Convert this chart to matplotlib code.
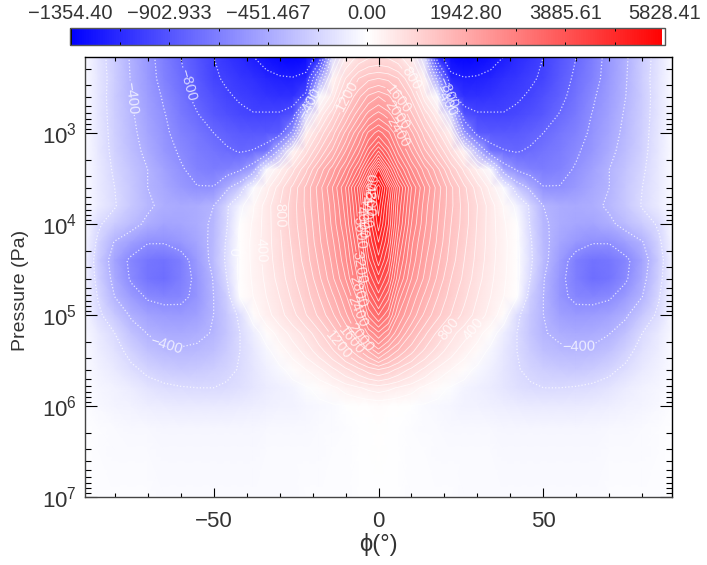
import numpy as np
import matplotlib
matplotlib.use('Agg')
import matplotlib.pyplot as plt
from matplotlib.colors import LinearSegmentedColormap, ListedColormap, TwoSlopeNorm
from matplotlib.ticker import FixedLocator, NullFormatter

plt.rcParams['font.family'] = ['Liberation Sans', 'DejaVu Sans']
plt.rcParams['mathtext.default'] = 'regular'

# latitude of each column (one hemisphere, the other is mirrored)
lat = [0, 3, 6, 10, 14, 18, 22, 26, 30, 34, 38, 42, 46, 50, 55, 60, 65, 70, 75, 80, 85, 89]
# log10 pressure of each row
log_p = [2.16, 2.4, 2.6, 2.8, 3.0, 3.2, 3.4, 3.6, 3.8, 4.0, 4.2, 4.4, 4.6, 4.8, 5.0, 5.2, 5.4, 5.6, 5.8, 6.0, 6.25, 6.5, 7.0]
wind = [
    [800, 760, 650, 400, -200, -1150, -1300, -1330, -1310, -1260, -1200, -1130, -1070, -1000, -900, -800, -680, -540, -420, -270, -140, -30],
    [1400, 1350, 1200, 800, 250, -500, -1150, -1190, -1180, -1150, -1100, -1060, -1015, -985, -870, -770, -660, -530, -410, -260, -130, -30],
    [2000, 1850, 1550, 1150, 500, -30, -950, -1090, -1090, -1070, -1045, -1015, -985, -930, -840, -740, -620, -510, -400, -270, -130, -30],
    [2500, 2300, 1950, 1450, 950, 450, -200, -900, -980, -985, -990, -970, -930, -880, -790, -700, -590, -490, -380, -260, -130, -30],
    [3100, 2850, 2400, 1850, 1300, 850, 350, -550, -860, -880, -880, -870, -840, -800, -730, -660, -570, -470, -360, -250, -125, -30],
    [3800, 3300, 2750, 2200, 1650, 1200, 750, 250, -350, -720, -790, -810, -780, -740, -690, -620, -540, -440, -340, -240, -120, -30],
    [5000, 4000, 3250, 2600, 2100, 1650, 1150, 750, 350, -30, -480, -620, -670, -690, -660, -580, -490, -400, -310, -220, -115, -30],
    [5750, 4900, 3900, 3000, 2400, 1900, 1450, 1050, 700, 320, -30, -280, -430, -590, -590, -530, -460, -400, -290, -200, -110, -25],
    [5500, 4700, 3750, 2900, 2300, 1850, 1450, 1100, 800, 500, 180, -60, -220, -400, -440, -450, -430, -380, -290, -190, -100, -25],
    [5300, 4600, 3650, 2800, 2250, 1800, 1400, 1100, 780, 500, 230, 10, -210, -380, -440, -470, -480, -430, -350, -270, -180, -40],
    [5000, 4400, 3450, 2650, 2150, 1750, 1350, 1050, 760, 500, 260, 30, -180, -360, -470, -540, -590, -590, -500, -410, -230, -60],
    [4700, 4150, 3250, 2550, 2050, 1650, 1300, 1000, 730, 480, 250, 40, -170, -350, -520, -680, -745, -730, -640, -480, -270, -70],
    [4300, 3850, 3050, 2400, 1950, 1550, 1200, 950, 680, 450, 230, 40, -200, -390, -560, -680, -770, -740, -620, -450, -250, -60],
    [3900, 3450, 2700, 2150, 1750, 1400, 1100, 850, 600, 400, 200, 10, -260, -400, -560, -640, -650, -620, -520, -400, -210, -55],
    [3400, 3050, 2400, 1950, 1550, 1250, 990, 730, 520, 320, 80, -170, -290, -400, -500, -530, -520, -490, -420, -290, -170, -45],
    [2750, 2450, 2050, 1600, 1250, 950, 680, 480, 280, 80, -90, -200, -300, -390, -430, -450, -440, -405, -320, -200, -110, -35],
    [2100, 1800, 1550, 1250, 950, 700, 480, 280, 100, -50, -120, -200, -270, -330, -370, -380, -370, -320, -240, -150, -85, -30],
    [1200, 1100, 950, 750, 550, 350, 200, 60, -40, -80, -130, -190, -230, -260, -285, -290, -270, -230, -170, -110, -65, -25],
    [500, 450, 380, 280, 150, 50, -20, -60, -80, -100, -130, -160, -180, -200, -200, -190, -170, -140, -105, -70, -45, -20],
    [50, 30, 10, -10, -25, -40, -50, -65, -70, -80, -90, -100, -110, -115, -115, -110, -100, -85, -70, -55, -35, -15],
    [0, -2, -8, -15, -22, -28, -32, -36, -40, -42, -45, -48, -50, -52, -52, -50, -48, -42, -36, -28, -20, -10],
    [0, -1, -8, -14, -20, -24, -26, -28, -30, -30, -32, -32, -33, -34, -34, -33, -32, -30, -28, -24, -18, -10],
    [-2, -4, -8, -14, -18, -20, -20, -22, -22, -22, -22, -22, -22, -22, -22, -22, -22, -20, -20, -18, -16, -10],
]

bar_ticks = [-1354.40, -902.933, -451.467, 0.0, 1942.80, 3885.61, 5828.41]
bar_labels = ['\u22121354.40', '\u2212902.933', '\u2212451.467', '0.00', '1942.80', '3885.61', '5828.41']

# contour labels: level, latitude, log10 pressure
label_level = [-800, -400, -800, -400, -400, -400, -400, 0, 400, 800, 1200, 800, 1600, 2000, 2400,
               3200, 2800, 2400, 2000, 1600, 1200, 800, 400, 3600, 4000, 4400, 4800, 5200]
label_lat = [-58.5, -74.5, 20.6, 21.5, -20.6, -64.5, 60.6, -43, -36.4, -30.3, -9.7, 9.1, 7.6, 8.8, 8.8,
             -5.5, -5.5, -7.5, -6, -9.4, -13, 21, 29.4, -6.5, -6, -5.5, -4.5, -3.5]
label_logp = [2.476, 2.608, 2.565, 2.62, 2.674, 5.34, 5.32, 4.31, 4.29, 3.91, 2.59, 2.42, 2.59, 2.72, 2.92,
              4.48, 4.73, 4.98, 5.26, 5.31, 5.36, 5.14, 5.17, 4.10, 3.98, 3.87, 3.75, 3.63]

# mirror the table about the equator
wind = np.array(wind, dtype=float)
lats = np.concatenate([-np.array(lat[:0:-1], dtype=float), lat])
field = np.hstack([wind[:, :0:-1], wind])
pres = 10.0 ** np.array(log_p)

# blue-white-red with the black and white end slots
base = LinearSegmentedColormap.from_list('bwr2', ['#0000ff', '#ffffff', '#ff0000'], N=256)
colors = base(np.linspace(0, 1, 256))
colors[0] = (0, 0, 0, 1)
colors[-1] = (1, 1, 1, 1)
cmap = ListedColormap(colors)
norm = TwoSlopeNorm(vmin=bar_ticks[0], vcenter=0, vmax=bar_ticks[-1])

W, H = 707.0, 565.0
text_color = '#333333'
fig = plt.figure(figsize=(7.07, 5.65), dpi=100, facecolor='white')
ax = fig.add_axes([85 / W, (H - 497) / H, 587 / W, 440.5 / H])
cax = fig.add_axes([70 / W, (H - 45) / H, 594.5 / W, 17.5 / H])

mesh = ax.pcolormesh(lats, pres, field, cmap=cmap, norm=norm, shading='gouraud')

ax.set_yscale('log')
ax.set_xlim(-89, 89)
ax.set_ylim(1e7, 10 ** 2.16)

# one contour set per level, clabel's manual mode cannot pick a level out of a bigger set
for lv in range(-1200, 5601, 200):
    style = 'dotted' if lv < 0 else 'solid'
    width = 0.9 if lv < 0 else 0.6
    cs = ax.contour(lats, pres, field, levels=[lv], colors='white', linestyles=style,
                    linewidths=width, alpha=0.75)
    pts = [(la, 10 ** lp) for lab, la, lp in zip(label_level, label_lat, label_logp) if lab == lv]
    if pts:
        ax.clabel(cs, manual=pts, inline=True, inline_spacing=1, fontsize=10.5, colors='white',
                  fmt=lambda v: f'{v:.0f}'.replace('-', '\u2212'))

ax.set_xticks([-50, 0, 50])
ax.xaxis.set_minor_locator(FixedLocator([v for v in range(-80, 90, 10) if v % 50]))
ax.set_yticks([1e3, 1e4, 1e5, 1e6, 1e7])
ax.set_yticklabels(['$10^{3}$', '$10^{4}$', '$10^{5}$', '$10^{6}$', '$10^{7}$'])
ax.set_xticklabels(['\u221250', '0', '50'])
ax.tick_params(axis='x', which='major', direction='in', top=True, bottom=True, length=6.5, width=0.8,
               labelsize=16, labelcolor=text_color, pad=10)
ax.tick_params(axis='x', which='minor', direction='in', top=True, bottom=True, length=3.2, width=0.8)
ax.tick_params(axis='y', which='major', direction='in', left=True, right=True, length=8.5, width=0.8,
               labelsize=16, labelcolor=text_color, pad=6)
ax.tick_params(axis='y', which='minor', direction='in', left=True, right=True, length=4.3, width=0.8)
ax.yaxis.set_minor_formatter(NullFormatter())
for side in ['left', 'bottom']:
    ax.spines[side].set_color('#444444')
    ax.spines[side].set_linewidth(1.0)
for side in ['top', 'right']:
    ax.spines[side].set_color('black')
    ax.spines[side].set_linewidth(1.0)

ax.set_ylabel('Pressure (Pa)', fontsize=14, color=text_color)
ax.yaxis.set_label_coords(-0.095, 0.47)
ax.set_xlabel('\u03d5(\u00b0)', fontsize=17, color=text_color, labelpad=1)

# colour bar
cb = fig.colorbar(mesh, cax=cax, orientation='horizontal', ticks=bar_ticks)
cb.ax.set_xticks(bar_ticks)
cb.ax.set_xticklabels(bar_labels)
mid = [(a + b) / 2 for a, b in zip(bar_ticks[:-1], bar_ticks[1:])]
cb.ax.xaxis.set_minor_locator(FixedLocator(mid))
cb.ax.xaxis.set_ticks_position('both')
cb.ax.tick_params(axis='x', which='both', direction='in', top=True, bottom=True, length=2.5, width=0.7,
                  labeltop=True, labelbottom=False)
cb.ax.tick_params(axis='x', which='major', labelsize=14.5, labelcolor=text_color, pad=3)
cb.outline.set_edgecolor('#555555')
cb.outline.set_linewidth(1.0)

fig.savefig('out.png', dpi=100)
